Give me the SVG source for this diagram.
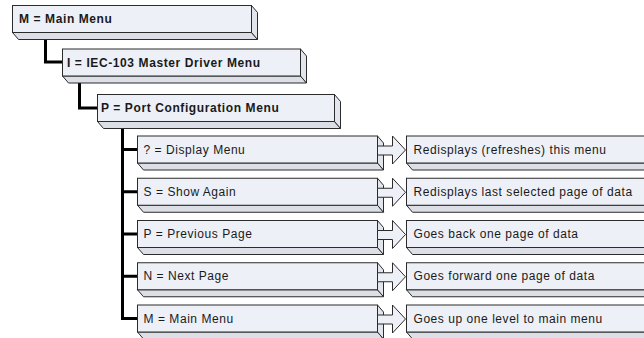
<svg xmlns="http://www.w3.org/2000/svg" width="644" height="338" viewBox="0 0 644 338">
<style>
.f{fill:#edf0f7;stroke:#2b2b2b;stroke-width:1}
.s{fill:#e2e5ec;stroke:#2b2b2b;stroke-width:1}
.b{fill:#dcdfe6;stroke:#2b2b2b;stroke-width:1}
.a{fill:#edf0f7;stroke:#2b2b2b;stroke-width:1}
.c{fill:none;stroke:#000;stroke-width:3}
text{font-family:"Liberation Sans",Arial,sans-serif;font-size:12px;fill:#1a1a1a}
.t{font-weight:bold;letter-spacing:0.6px}
.n{letter-spacing:0.55px}
</style>
<g id="connectors">
<path class="c" d="M45.5,39 V62 H62"/>
<path class="c" d="M79.5,83 V108 H97"/>
<path class="c" d="M122.5,128 V318.5 H137"/>
<path class="c" d="M122.5,149.5 H137 M122.5,191.75 H137 M122.5,234 H137 M122.5,276.25 H137"/>
</g>
<g id="main-menu">
<polygon class="b" points="12.5,32.5 251.5,32.5 257.5,39.5 18.5,39.5"/>
<polygon class="s" points="251.5,5.5 257.5,12.5 257.5,39.5 251.5,32.5"/>
<rect class="f" x="12.5" y="5.5" width="239" height="27"/>
<text class="t" x="19" y="23">M = Main Menu</text>
</g>
<g id="driver-menu">
<polygon class="b" points="62.5,76 300.5,76 306.5,83 68.5,83"/>
<polygon class="s" points="300.5,49 306.5,56 306.5,83 300.5,76"/>
<rect class="f" x="62.5" y="49" width="238" height="27"/>
<text class="t" x="67" y="66.5">I = IEC-103 Master Driver Menu</text>
</g>
<g id="port-menu">
<polygon class="b" points="97.5,121.5 334.5,121.5 340.5,128.5 103.5,128.5"/>
<polygon class="s" points="334.5,94.5 340.5,101.5 340.5,128.5 334.5,121.5"/>
<rect class="f" x="97.5" y="94.5" width="237" height="27"/>
<text class="t" x="101" y="112">P = Port Configuration Menu</text>
</g>
<g id="row1">
<polygon class="b" points="137.5,163 377.5,163 383.5,170 143.5,170"/>
<polygon class="s" points="377.5,136 383.5,143 383.5,170 377.5,163"/>
<rect class="f" x="137.5" y="136" width="240" height="27"/>
<text class="n" x="143.5" y="153.5">? = Display Menu</text>
<polygon class="a" points="377.5,146 392.5,146 392.5,136 405.5,150 392.5,164 392.5,155 377.5,155"/>
<polygon class="b" points="406.5,163 650,163 656,170 412.5,170"/>
<rect class="f" x="406.5" y="136" width="244" height="27"/>
<text class="n" x="413.5" y="153.5">Redisplays (refreshes) this menu</text>
</g>
<g id="row2">
<polygon class="b" points="137.5,205.25 377.5,205.25 383.5,212.25 143.5,212.25"/>
<polygon class="s" points="377.5,178.25 383.5,185.25 383.5,212.25 377.5,205.25"/>
<rect class="f" x="137.5" y="178.25" width="240" height="27"/>
<text class="n" x="143.5" y="195.75">S = Show Again</text>
<polygon class="a" points="377.5,188.25 392.5,188.25 392.5,178.25 405.5,192.25 392.5,206.25 392.5,197.25 377.5,197.25"/>
<polygon class="b" points="406.5,205.25 650,205.25 656,212.25 412.5,212.25"/>
<rect class="f" x="406.5" y="178.25" width="244" height="27"/>
<text class="n" x="413.5" y="195.75">Redisplays last selected page of data</text>
</g>
<g id="row3">
<polygon class="b" points="137.5,247.5 377.5,247.5 383.5,254.5 143.5,254.5"/>
<polygon class="s" points="377.5,220.5 383.5,227.5 383.5,254.5 377.5,247.5"/>
<rect class="f" x="137.5" y="220.5" width="240" height="27"/>
<text class="n" x="143.5" y="238">P = Previous Page</text>
<polygon class="a" points="377.5,230.5 392.5,230.5 392.5,220.5 405.5,234.5 392.5,248.5 392.5,239.5 377.5,239.5"/>
<polygon class="b" points="406.5,247.5 650,247.5 656,254.5 412.5,254.5"/>
<rect class="f" x="406.5" y="220.5" width="244" height="27"/>
<text class="n" x="413.5" y="238">Goes back one page of data</text>
</g>
<g id="row4">
<polygon class="b" points="137.5,289.75 377.5,289.75 383.5,296.75 143.5,296.75"/>
<polygon class="s" points="377.5,262.75 383.5,269.75 383.5,296.75 377.5,289.75"/>
<rect class="f" x="137.5" y="262.75" width="240" height="27"/>
<text class="n" x="143.5" y="280.25">N = Next Page</text>
<polygon class="a" points="377.5,272.75 392.5,272.75 392.5,262.75 405.5,276.75 392.5,290.75 392.5,281.75 377.5,281.75"/>
<polygon class="b" points="406.5,289.75 650,289.75 656,296.75 412.5,296.75"/>
<rect class="f" x="406.5" y="262.75" width="244" height="27"/>
<text class="n" x="413.5" y="280.25">Goes forward one page of data</text>
</g>
<g id="row5">
<polygon class="b" points="137.5,332 377.5,332 383.5,339 143.5,339"/>
<polygon class="s" points="377.5,305 383.5,312 383.5,339 377.5,332"/>
<rect class="f" x="137.5" y="305" width="240" height="27"/>
<text class="n" x="143.5" y="322.5">M = Main Menu</text>
<polygon class="a" points="377.5,315 392.5,315 392.5,305 405.5,319 392.5,333 392.5,324 377.5,324"/>
<polygon class="b" points="406.5,332 650,332 656,339 412.5,339"/>
<rect class="f" x="406.5" y="305" width="244" height="27"/>
<text class="n" x="413.5" y="322.5">Goes up one level to main menu</text>
</g>
</svg>
